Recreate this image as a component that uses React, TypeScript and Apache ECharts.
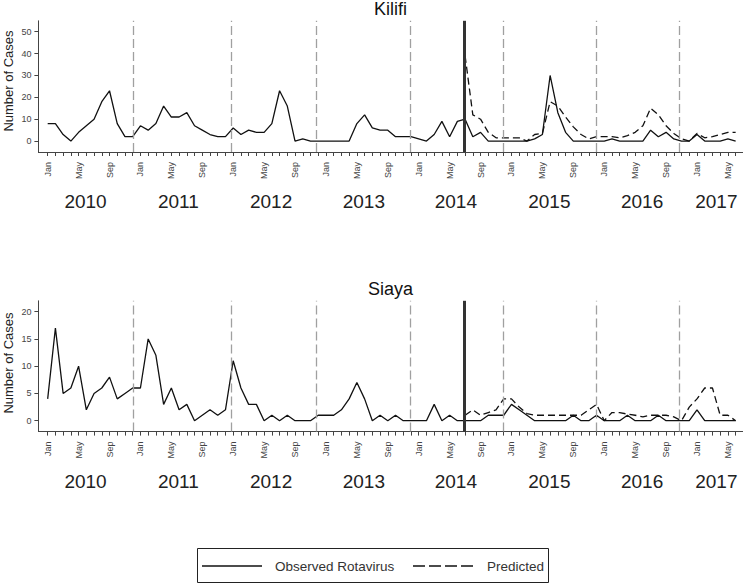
import { useEffect, useRef } from "react";
import * as echarts from "echarts";

// Monthly series, Jan 2010 .. Jun 2017 (index 0 = Jan 2010)
const kilifiObserved = [
  8, 8, 3, 0, 4, 7, 10, 18, 23, 8, 2, 2,
  7, 5, 8, 16, 11, 11, 13, 7, 5, 3, 2, 2,
  6, 3, 5, 4, 4, 8, 23, 16, 0, 1, 0, 0,
  0, 0, 0, 0, 8, 12, 6, 5, 5, 2, 2, 2,
  1, 0, 3, 9, 2, 9, 10, 2, 4, 0, 0, 0,
  0, 0, 0, 1, 3, 30, 13, 4, 0, 0, 0, 0,
  0, 1, 0, 0, 0, 0, 5, 2, 4, 1, 0, 0,
  3, 0, 0, 0, 1, 0,
];
// Predicted, Jul 2014 .. Jun 2017
const kilifiPredicted = [
  39, 12, 10, 4, 1.5, 1.5, 1.5, 1.5, 0, 3, 3.5, 18, 16, 11, 6.5, 3, 1, 2,
  2, 2, 1.5, 2.5, 4, 7, 15, 12, 7, 3.5, 1, 0, 3.5, 1.5, 2, 3, 4, 4,
];
const siayaObserved = [
  4, 17, 5, 6, 10, 2, 5, 6, 8, 4, 5, 6,
  6, 15, 12, 3, 6, 2, 3, 0, 1, 2, 1, 2,
  11, 6, 3, 3, 0, 1, 0, 1, 0, 0, 0, 1,
  1, 1, 2, 4, 7, 4, 0, 1, 0, 1, 0, 0,
  0, 0, 3, 0, 1, 0, 0, 0, 0, 1, 1, 1,
  3, 2, 1, 0, 0, 0, 0, 0, 1, 0, 0, 1,
  0, 0, 0, 1, 0, 0, 0, 1, 0, 0, 0, 0,
  2, 0, 0, 0, 0, 0,
];
const siayaPredicted = [
  1, 2, 1, 1.5, 2, 4, 4, 2.5, 1.3, 1, 1, 1, 1, 1, 1, 1, 2, 3,
  0, 1.5, 1.5, 1.2, 1, 0.7, 1, 1, 1, 0.7, 0, 2.5, 4, 6, 6, 1, 1, 0,
];
const predictedStartIndex = 54;

const monthNames = ["Jan", "Feb", "Mar", "Apr", "May", "Jun", "Jul", "Aug", "Sep", "Oct", "Nov", "Dec"];
const yearLabels = ["2010", "2011", "2012", "2013", "2014", "2015", "2016", "2017"];
const yearLabelPos = [4.9, 16.9, 28.9, 40.9, 52.8, 64.9, 76.9, 86.5];
const yearBreakPos = [11.04, 23.71, 34.71, 46.96, 58.94, 70.93, 81.71];
const forecastStart = 53.87;

const kilifiTicks = [0, 10, 20, 30, 40, 50];
const siayaTicks = [0, 5, 10, 15, 20];

const FONT = "'Liberation Sans', Arial, Helvetica, sans-serif";
const AXIS = "#444";

export default function App() {
  const ref = useRef<HTMLDivElement>(null);

  useEffect(() => {
    document.body.style.margin = "0";
    const chart = echarts.init(ref.current!, undefined, { renderer: "svg" });

    const monthTicks = kilifiObserved.map((_, i) => i);
    const labeledMonths = monthTicks.filter((i) => i % 4 === 0);

    const grids = [
      { left: 38.4, width: 704.2, top: 20.8, height: 131.2 },
      { left: 38.4, width: 704.2, top: 300.8, height: 130.8 },
    ];

    const mainX = (g: number) => ({
      type: "value",
      gridIndex: g,
      min: -1.2,
      max: 89.9,
      position: "bottom",
      axisLine: { show: true, onZero: false, lineStyle: { color: AXIS, width: 1 } },
      axisTick: { show: true, length: 4, customValues: monthTicks, lineStyle: { color: AXIS } },
      axisLabel: {
        customValues: labeledMonths,
        rotate: 90,
        margin: 10,
        fontSize: 9,
        color: AXIS,
        fontFamily: FONT,
        formatter: (v: number) => monthNames[Math.round(v) % 12],
      },
      splitLine: { show: false },
    });
    const yearX = (g: number) => ({
      type: "value",
      gridIndex: g,
      min: -1.2,
      max: 89.9,
      position: "bottom",
      offset: 0,
      axisLine: { show: false },
      axisTick: { show: false },
      axisLabel: {
        customValues: yearLabelPos,
        margin: 40,
        fontSize: 19,
        color: "#222",
        fontFamily: FONT,
        verticalAlign: "top",
        formatter: (v: number) => {
          let best = 0;
          yearLabelPos.forEach((p, i) => {
            if (Math.abs(p - v) < Math.abs(yearLabelPos[best] - v)) best = i;
          });
          return yearLabels[best];
        },
      },
      splitLine: { show: false },
    });
    const yAx = (g: number, min: number, max: number, ticks: number[]) => ({
      type: "value",
      gridIndex: g,
      min,
      max,
      axisLine: { show: true, onZero: false, lineStyle: { color: AXIS, width: 1 } },
      axisTick: { show: true, length: 4, customValues: ticks, lineStyle: { color: AXIS } },
      axisLabel: { customValues: ticks, margin: 7, fontSize: 9, color: AXIS, fontFamily: FONT },
      splitLine: { show: false },
    });

    const markLine = {
      silent: true,
      symbol: ["none", "none"],
      label: { show: false },
      emphasis: { disabled: true },
      data: [
        ...yearBreakPos.map((v) => ({
          xAxis: v,
          lineStyle: { color: "#a0a0a0", type: [9, 4], width: 1.3 },
        })),
        { xAxis: forecastStart, lineStyle: { color: "#333", type: "solid", width: 3 } },
      ],
    };

    const obs = (data: number[], xi: number, yi: number) => ({
      type: "line",
      xAxisIndex: xi,
      yAxisIndex: yi,
      data: data.map((v, i) => [i, v]),
      symbol: "none",
      lineStyle: { color: "#111", width: 1.3 },
      markLine,
      z: 3,
    });
    const pred = (data: number[], xi: number, yi: number) => ({
      type: "line",
      xAxisIndex: xi,
      yAxisIndex: yi,
      data: data.map((v, i) => [predictedStartIndex + i, v]),
      symbol: "none",
      lineStyle: { color: "#111", width: 1.3, type: [7, 4] },
      z: 3,
    });

    const legendY = 566;
    chart.setOption({
      animation: false,
      textStyle: { fontFamily: FONT },
      title: [
        { text: "Kilifi", left: 390.5, top: 0, textAlign: "center", padding: 0, textStyle: { fontSize: 18, fontWeight: "normal", color: "#111", fontFamily: FONT } },
        { text: "Siaya", left: 390.5, top: 280, textAlign: "center", padding: 0, textStyle: { fontSize: 18, fontWeight: "normal", color: "#111", fontFamily: FONT } },
      ],
      grid: grids,
      xAxis: [mainX(0), yearX(0), mainX(1), yearX(1)],
      yAxis: [yAx(0, -5, 55, kilifiTicks), yAx(1, -2, 22, siayaTicks)],
      series: [
        obs(kilifiObserved, 0, 0),
        pred(kilifiPredicted, 0, 0),
        obs(siayaObserved, 2, 1),
        pred(siayaPredicted, 2, 1),
      ],
      graphic: [
        { type: "text", x: 8, y: 81, rotation: Math.PI / 2, style: { text: "Number of Cases", fontSize: 13, fill: "#222", align: "center", verticalAlign: "middle", fontFamily: FONT } },
        { type: "text", x: 8, y: 363, rotation: Math.PI / 2, style: { text: "Number of Cases", fontSize: 13, fill: "#222", align: "center", verticalAlign: "middle", fontFamily: FONT } },
        { type: "rect", shape: { x: 197.5, y: 548.5, width: 351, height: 34 }, style: { fill: "#fff", stroke: "#222", lineWidth: 1 } },
        { type: "line", shape: { x1: 202, y1: legendY, x2: 262, y2: legendY }, style: { stroke: "#111", lineWidth: 1.3 } },
        { type: "text", x: 275, y: legendY, style: { text: "Observed Rotavirus", fontSize: 13.5, fill: "#333", verticalAlign: "middle", fontFamily: FONT } },
        { type: "line", shape: { x1: 413, y1: legendY, x2: 475, y2: legendY }, style: { stroke: "#111", lineWidth: 1.3, lineDash: [12, 4] } },
        { type: "text", x: 487, y: legendY, style: { text: "Predicted", fontSize: 13.5, fill: "#333", verticalAlign: "middle", fontFamily: FONT } },
      ],
    });
    return () => chart.dispose();
  }, []);

  return <div ref={ref} style={{ width: 745, height: 586 }} />;
}
